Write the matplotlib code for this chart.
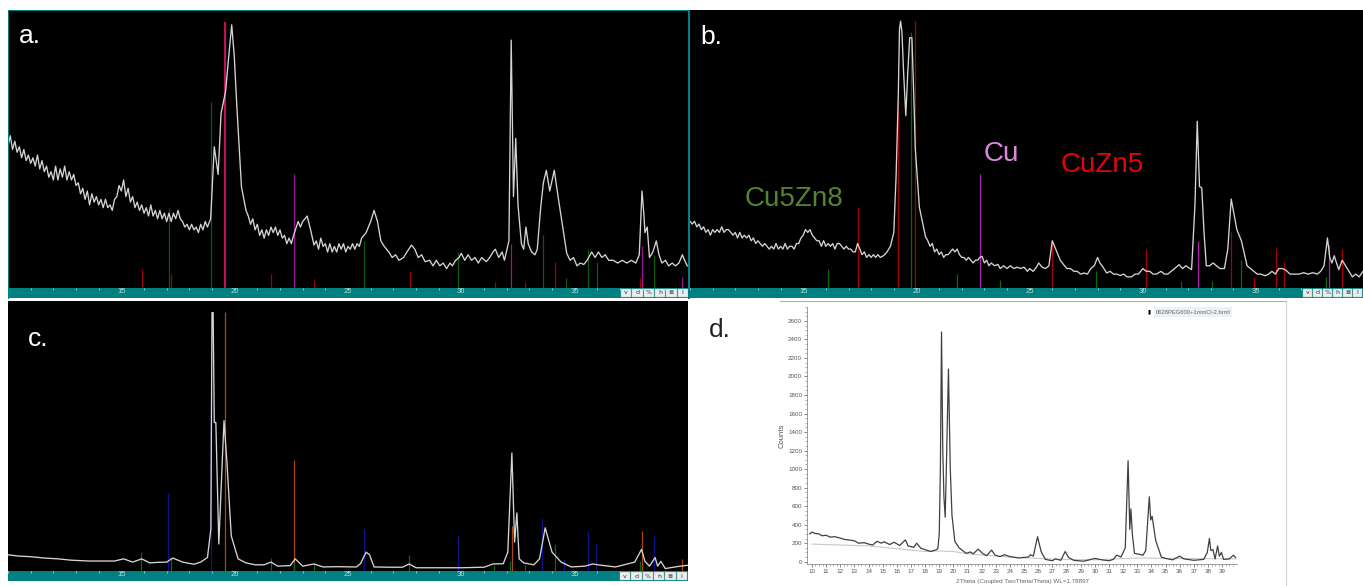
import matplotlib
matplotlib.use('Agg')
import matplotlib.pyplot as plt
from matplotlib.patches import Rectangle

W, H = 1363, 586
TEAL = '#008080'
plt.rcParams['font.family'] = ['Liberation Sans', 'DejaVu Sans']

# panel a, scan
a_x = [10.0,10.1,10.2,10.3,10.4,10.5,10.6,10.7,10.8,10.9,11.0,11.1,11.2,11.3,11.4,11.5,11.6,11.7,11.8,11.9,
       12.0,12.1,12.2,12.3,12.4,12.5,12.6,12.7,12.8,12.9,13.0,13.1,13.2,13.3,13.4,13.5,13.6,13.7,13.8,13.9,
       14.0,14.1,14.2,14.3,14.4,14.5,14.6,14.7,14.8,14.9,15.0,15.1,15.2,15.3,15.4,15.5,15.6,15.7,15.8,15.9,
       16.0,16.1,16.2,16.3,16.4,16.5,16.6,16.7,16.8,16.9,17.0,17.1,17.2,17.3,17.4,17.5,17.6,17.7,17.8,17.9,
       18.0,18.1,18.2,18.3,18.4,18.5,18.6,18.7,18.8,18.94,19.1,19.27,19.4,19.6,19.72,19.87,19.98,20.1,20.3,20.5,
       20.6,20.7,20.8,20.9,21.0,21.1,21.2,21.3,21.4,21.5,21.6,21.7,21.8,21.9,22.0,22.1,22.2,22.3,22.4,22.5,
       22.6,22.8,22.9,23.0,23.2,23.35,23.5,23.6,23.7,23.8,23.9,24.0,24.1,24.2,24.3,24.4,24.5,24.6,24.7,24.8,
       24.9,25.0,25.1,25.2,25.3,25.4,25.5,25.6,25.8,26.0,26.15,26.3,26.45,26.6,26.8,26.95,27.1,27.25,27.45,27.6,
       27.8,27.95,28.1,28.25,28.4,28.6,28.75,28.9,29.05,29.2,29.35,29.5,29.6,29.75,29.9,30.0,30.15,30.3,30.45,30.6,
       30.75,30.9,31.1,31.25,31.4,31.5,31.65,31.8,31.9,32.1,32.2,32.3,32.4,32.5,32.65,32.75,32.85,32.95,33.1,33.25,
       33.35,33.5,33.62,33.75,33.9,34.1,34.25,34.4,34.65,34.8,34.95,35.1,35.25,35.4,35.55,35.75,35.9,36.05,36.2,36.35,
       36.5,36.7,36.9,37.1,37.3,37.5,37.7,37.85,37.97,38.05,38.1,38.2,38.3,38.45,38.6,38.72,38.85,39.0,39.15,39.3,
       39.45,39.6,39.75,39.85,39.97]
a_y = [51,55,50,53,49,51,47,50,46,48,45,47,44,48,43,46,42,44,40,42,
       39,44,39,43,40,44,39,42,39,41,37,38,34,36,32,35,30,34,31,33,
       30,32,29,32,29,30,28,32,33,37,35,39,33,36,31,33,29,31,28,30,
       27,29,26,30,26,28,25,28,25,27,24,27,24,27,25,28,25,24,22,23,
       21,23,21,22,20,23,21,24,22,25,51,41,63,71,82,95,84,65,36.5,28,
       26,23,25,21,23,19,21,18,21,19,22,20,22,19,21,18,19,16,18,16,
       19,24,22,24,26,21,15.5,17,14,18,15,16,13,16,13,15,13,16,14,16,
       13,15,14,16,14,16,15,18,20,24,28,24,17,15,13,11,12,10,11,13,
       15.5,14,11,12,9.5,10,8,10,8,9,7,9,8,10,11,12.5,10,12,10,11,
       9,11,9.5,11,13,14,11,13,10,17,89.5,33,54,30,16,14,22,16,13,12,
       14,29,38,42.5,35,42.5,34,26,12.5,10,11,8,9,8.5,10,13,11,13,11,12,
       10,10,9,10,9,10,9,12,35,27,20,22,11,13,17,12,9,10,8,9,
       8,9,12,10,8]

a_red_pos = [15.9,17.2,21.6,22.6,23.5,27.75,31.47,32.8,34.15,37.9]
a_red_h = [7,5,5,3,3,6,2,2,9.5,3.5]
a_green_pos = [17.1,18.94,25.7,29.87,33.6,34.6,35.6,36.0,38.5]
a_green_h = [29,67,17,13,19,3.5,14,9.5,12]
a_mag_pos = [22.6,32.2,37.95,39.75]
a_mag_h = [41,16,15,4]
a_crim_pos = [19.57]
a_crim_h = [96]

# panel b, scan
b_x = [10.0,10.1,10.2,10.3,10.4,10.5,10.6,10.7,10.8,10.9,11.0,11.1,11.2,11.3,11.4,11.5,11.6,11.7,11.8,11.9,
       12.0,12.1,12.2,12.3,12.4,12.5,12.6,12.7,12.8,12.9,13.0,13.1,13.2,13.3,13.4,13.5,13.6,13.7,13.8,13.9,
       14.0,14.1,14.2,14.3,14.4,14.5,14.6,14.7,14.8,14.9,15.0,15.1,15.2,15.3,15.4,15.5,15.6,15.7,15.8,15.9,
       16.0,16.1,16.2,16.3,16.4,16.5,16.6,16.7,16.8,16.9,17.0,17.1,17.2,17.3,17.4,17.5,17.6,17.7,17.8,17.9,
       18.0,18.1,18.2,18.3,18.4,18.5,18.6,18.7,18.85,19.0,19.1,19.2,19.25,19.3,19.36,19.43,19.53,19.62,19.7,19.8,
       19.88,19.95,20.13,20.4,20.5,20.6,20.7,20.8,20.9,21.0,21.1,21.2,21.3,21.4,21.5,21.6,21.7,21.8,21.9,22.0,
       22.1,22.2,22.3,22.4,22.5,22.6,22.7,22.8,22.9,23.0,23.1,23.2,23.3,23.45,23.6,23.7,23.85,24.0,24.15,24.3,
       24.45,24.6,24.75,24.9,25.0,25.15,25.3,25.4,25.55,25.7,25.85,26.0,26.1,26.2,26.35,26.5,26.65,26.8,26.95,27.1,
       27.25,27.4,27.55,27.7,27.85,28.0,28.1,28.2,28.4,28.55,28.7,28.85,29.0,29.15,29.3,29.5,29.65,29.8,30.0,30.15,
       30.3,30.45,30.6,30.8,30.95,31.1,31.25,31.4,31.6,31.75,31.9,32.15,32.3,32.4,32.5,32.6,32.7,32.8,32.95,33.1,
       33.25,33.4,33.6,33.75,33.9,34.15,34.35,34.6,34.75,34.9,35.05,35.2,35.4,35.55,35.7,35.85,36.0,36.15,36.3,36.5,
       36.7,36.9,37.1,37.3,37.5,37.7,37.85,38.0,38.15,38.25,38.35,38.45,38.55,38.65,38.8,38.95,39.1,39.25,39.4,39.55,39.72]
b_y = [24,23,24,22,23,21,22,20,21,19,21,20,21,20,22,20,21,21,20,19,
       20,18,20,18,19,18,19,17,18,16,17,16,15,16,15,14,15,14,16,14,
       15,14,16,14,15,15,14,16,16,18,19,21,20,21,19,18,17,17,15,17,
       15,16,15,16,14,16,16,15,14,15,14,14,13,13,16,14,12,13,11,12,
       11,12,11,12,11,11.4,12,13,15,20,40,70,93,96,92,78,62,78,90,90,
       70,50,29,18.5,17,15,16,13,14,12,13,11,12,12,13,14,13,14,12,11,
       11,10,11,10,9,10,10,11,11.4,9,10,8,9,8,8.5,7,8,7,8,7,
       7.5,7,7.5,6,7,6,7.5,9,7.5,7,8,17,15,13,10,8.4,7,7,6,6,
       5,5.4,5,7,8,11,9,8,5.4,6,5,5,4.5,5,4,4,5,5,7,6,
       6,5,5,6,5,5,6,7,8.4,7,8,6.6,30,60,36.5,36,20,8,8,9,
       8,7,7,14,32,21,17,8,7,6,5,5,4.4,5,6,5,7,7,6.5,5,
       5,5,5.5,5,5.5,5,6,8,18,11,9,11.6,9,6.6,10,8,6,4,5,4,6]

b_green_pos = [16.1,17.4,19.75,21.8,23.7,27.95,31.7,33.05,34.35,38.1]
b_green_h = [7,4,92,5,3,6,2.4,2.4,10,4]
b_red_pos = [17.4,19.2,19.95,26.0,30.15,33.9,34.9,35.9,36.25,38.8]
b_red_h = [29,67.7,96,17,14,20,4,14.5,9.5,14]
b_mag_pos = [22.8,32.45,38.2]
b_mag_h = [41,17,15.6]

# panel c, scan
c_x = [10.0,10.5,11.0,11.6,12.2,12.8,13.55,14.2,14.7,15.1,15.5,15.9,16.25,16.6,17.0,17.27,17.7,18.2,18.5,18.8,
       18.95,19.0,19.05,19.1,19.17,19.3,19.45,19.53,19.65,19.85,20.15,20.5,20.9,21.3,21.6,21.9,22.45,22.67,23.0,23.5,
       23.9,24.5,25.37,25.55,25.8,25.95,26.15,26.8,27.4,27.7,28.0,29.0,30.0,31.0,31.4,31.85,32.05,32.23,32.35,32.45,
       32.55,32.75,33.2,33.45,33.7,34.0,34.4,34.85,35.45,35.8,36.1,36.8,37.65,37.95,38.1,38.3,38.55,38.66,38.8,39.0,
       39.5,39.97]
c_y = [6,5.5,5.3,4.8,4.5,4,3.7,3.7,3.7,4.5,3.3,4.5,3,3.2,3.3,4.8,3.3,2.5,3.3,5,
       15.6,95.7,95.7,55,55,10,40,55.7,41.5,13,4.5,3,2.3,2.3,3.3,1.8,2,4.5,1.8,2.6,
       1.5,1.6,1.5,2.7,7,6,1.5,1.4,1.4,2.6,1.2,1.2,1.2,1.4,2.6,2.7,7,43.7,10.7,21.5,
       4.5,3,2.3,4.5,16,7,3.3,1.5,1.8,2.6,2.2,1.5,3.3,8,3.6,1.8,5,1.8,3.6,0.9,
       1.6,2.1]

c_blue_pos = [17.07,18.95,25.7,29.85,33.55,34.55,35.6,35.93,38.5]
c_blue_h = [29,67,15.4,13.5,19.7,4.3,14.4,10,13.5]
c_orange_pos = [19.57,22.63,32.23,37.96,39.75]
c_orange_h = [96,41,16.6,15,4.3]
c_green_pos = [15.87,17.17,21.6,22.6,23.5,27.7,31.45,32.15,32.8,34.15,37.9]
c_green_h = [7,5,5,3,2.5,6,2.2,3.7,2.2,10,3.7]

# panel d, counts
d_x = [9.85,10.0,10.2,10.5,10.7,11.0,11.3,11.6,12.0,12.3,12.6,13.0,13.3,13.7,14.0,14.3,14.6,14.9,15.1,15.5,
       15.8,16.2,16.6,16.8,17.2,17.4,17.7,18.0,18.4,18.8,18.9,19.0,19.08,19.16,19.25,19.33,19.42,19.5,19.65,19.78,
       19.9,20.1,20.4,20.9,21.2,21.4,21.75,22.1,22.35,22.7,22.95,23.3,23.6,24.0,24.6,25.3,25.45,25.65,25.95,26.2,
       26.5,27.0,27.2,27.6,27.9,28.15,28.5,29.2,30.0,30.5,31.0,31.3,31.55,31.85,32.15,32.35,32.47,32.55,32.65,32.8,
       33.4,33.6,33.85,33.95,34.05,34.3,34.7,35.0,35.5,36.0,36.3,37.0,37.7,37.95,38.1,38.2,38.35,38.5,38.68,38.8,
       38.95,39.1,39.5,39.8,39.95]
d_y = [300,320,305,300,280,285,265,270,255,240,235,225,200,205,190,180,220,200,215,185,
       210,175,235,170,155,200,145,130,110,130,140,300,1000,2480,1200,700,480,1000,2080,1000,
       500,220,150,90,105,85,135,85,65,125,70,55,75,55,40,50,75,60,270,110,
       25,10,30,15,110,45,15,5,35,20,10,25,70,50,150,1090,350,570,300,90,
       70,120,700,450,490,230,50,35,20,60,30,15,25,100,250,120,130,30,170,60,
       100,25,30,70,45]
d_bg_x = [10,14,18,19,20,21,24,27,30,33,36,40]
d_bg_y = [190,170,110,115,110,85,50,28,20,40,35,30]
d_xticks = list(range(10, 40))
d_xminor = [10 + i * 0.25 for i in range(120)]
d_yticks = list(range(0, 2601, 200))
d_yminor = list(range(0, 2751, 50))
bar_ticks = [15, 20, 25, 30, 35]
bar_minor = list(range(10, 40))
buttons = ['v', 'd', '%', 'h', '≣', 'I']


def px_axes(x0, y0, x1, y1):
    # pixel box measured from the top left corner
    return fig.add_axes([x0 / W, 1 - y1 / H, (x1 - x0) / W, (y1 - y0) / H])


def sticks(ax, pos, h, color, lw=0.9):
    ax.vlines(pos, 0, h, color=color, lw=lw)


def scan_panel(x0, y0, x1, y1, bar_h, xmax, xs, ys, btn_x, btn_w):
    ax = px_axes(x0, y0, x1, y1)
    ax.set_facecolor('black')
    ax.set_xlim(10, xmax)
    ax.set_ylim(0, 100)
    ax.set_xticks([])
    ax.set_yticks([])
    for s in ax.spines.values():
        s.set_visible(False)

    bar = px_axes(x0, y1, x1, y1 + bar_h)
    bar.set_facecolor(TEAL)
    bar.set_xlim(10, xmax)
    bar.set_ylim(0, 1)
    bar.set_yticks([])
    bar.set_xticks(bar_ticks)
    bar.set_xticks(bar_minor, minor=True)
    bar.tick_params(axis='x', which='both', direction='in', top=True, bottom=False, length=1.5,
                    color='#a8d8d8', width=0.6, labelsize=5.5, labelcolor='#b5e0e0', pad=-7)
    for s in bar.spines.values():
        s.set_visible(False)

    for i, b in enumerate(buttons):
        bx = btn_x + i * btn_w
        bar.add_patch(Rectangle((bx / W, 1 - (y1 + 9) / H), (btn_w - 1) / W, 8 / H, transform=fig.transFigure,
                                facecolor='#e6eeee', edgecolor='#c0c0c0', lw=0.3, zorder=5, clip_on=False))
        fig.text((bx + btn_w / 2 - 0.5) / W, 1 - (y1 + 5) / H, b, fontsize=4.5, color='#333333', ha='center',
                 va='center', zorder=6, family=['DejaVu Sans'])
    ax.plot(xs, ys, color='#d4d4d4', lw=0.95, zorder=3)
    return ax


fig = plt.figure(figsize=(W / 100, H / 100), dpi=100, facecolor='white')

# a
ax_a = scan_panel(8, 11, 688, 288, 10, 40, a_x, a_y, 621, 11.3)
sticks(ax_a, a_red_pos, a_red_h, '#a00000')
sticks(ax_a, a_green_pos, a_green_h, '#0a5a0a')
sticks(ax_a, a_mag_pos, a_mag_h, '#a0109a')
sticks(ax_a, a_crim_pos, a_crim_h, '#c0105a', lw=1.5)

# frame of a
for x0, y0, x1, y1 in [(8, 10, 689, 11), (8, 10, 9, 299), (688, 10, 690, 299)]:
    fig.add_artist(Rectangle((x0 / W, 1 - y1 / H), (x1 - x0) / W, (y1 - y0) / H,
                             transform=fig.transFigure, facecolor=TEAL, edgecolor='none'))

# b
ax_b = scan_panel(690, 10, 1363, 288, 10, 39.72, b_x, b_y, 1303, 10)
sticks(ax_b, b_green_pos, b_green_h, '#0a6a0a')
sticks(ax_b, b_red_pos, b_red_h, '#a80000')
sticks(ax_b, b_mag_pos, b_mag_h, '#b020b0')

# c
ax_c = scan_panel(8, 301, 688, 571, 10, 40, c_x, c_y, 620, 11.3)
sticks(ax_c, c_blue_pos, c_blue_h, '#10108c')
sticks(ax_c, c_orange_pos, c_orange_h, '#a84a10')
sticks(ax_c, c_green_pos, c_green_h, '#0a6a0a')

# d
ax_d = px_axes(807, 307, 1237, 564)
ax_d.set_xlim(9.65, 40.05)
ax_d.set_ylim(-25, 2720)
ax_d.plot(d_bg_x, d_bg_y, color='#c8c8c8', lw=0.8)
ax_d.plot(d_x, d_y, color='#404040', lw=0.9)
ax_d.set_xticks(d_xticks)
ax_d.set_xticks(d_xminor, minor=True)
ax_d.set_yticks(d_yticks)
ax_d.set_yticks(d_yminor, minor=True)
ax_d.tick_params(axis='both', which='major', labelsize=4.5, length=2.5, width=0.5, color='#555555',
                 labelcolor='#555555', pad=1)
ax_d.tick_params(axis='both', which='minor', length=1.5, width=0.4, color='#777777')
for side in ['top', 'right']:
    ax_d.spines[side].set_visible(False)
for side in ['left', 'bottom']:
    ax_d.spines[side].set_linewidth(0.5)
    ax_d.spines[side].set_color('#777777')
ax_d.set_ylabel('Counts', fontsize=5.5, color='#555555', labelpad=2)

# outlines around d
fig.add_artist(plt.Line2D([780 / W, 1286 / W], [1 - 301 / H, 1 - 301 / H], color='#b0b0b0', lw=0.8))
fig.add_artist(plt.Line2D([1286 / W, 1286 / W], [1 - 301 / H, 0], color='#d0d0d0', lw=0.8))

fig.text(1193 / W, 1 - 312 / H, '0628PEG600+1mmCl-2.brml', fontsize=4.2, color='#666666', ha='center', va='center',
         bbox=dict(facecolor='#eef1f4', edgecolor='none', pad=1.5))
fig.text(1149 / W, 1 - 312 / H, '▮', fontsize=4, color='black', ha='center', va='center', family=['DejaVu Sans'])
fig.text(1022 / W, 1 - 581 / H, '2Theta (Coupled TwoTheta/Theta) WL=1.78897', fontsize=4.5, color='#666666',
         ha='center', va='center')

# panel letters and phase names
fig.text(19 / W, 1 - 36 / H, 'a.', color='white', fontsize=19, va='center')
fig.text(700 / W, 1 - 37 / H, 'b.', color='white', fontsize=19, va='center')
fig.text(28 / W, 1 - 339 / H, 'c.', color='white', fontsize=19, va='center')
fig.text(709 / W, 1 - 330 / H, 'd.', color='#222222', fontsize=19, va='center')
fig.text(745 / W, 1 - 199 / H, 'Cu5Zn8', color='#548235', fontsize=20, va='center')
fig.text(984 / W, 1 - 154 / H, 'Cu', color='#DA8ADA', fontsize=20, va='center')
fig.text(1061 / W, 1 - 165 / H, 'CuZn5', color='#E8000B', fontsize=20, va='center')

fig.savefig('out.png', dpi=100, facecolor='white')
